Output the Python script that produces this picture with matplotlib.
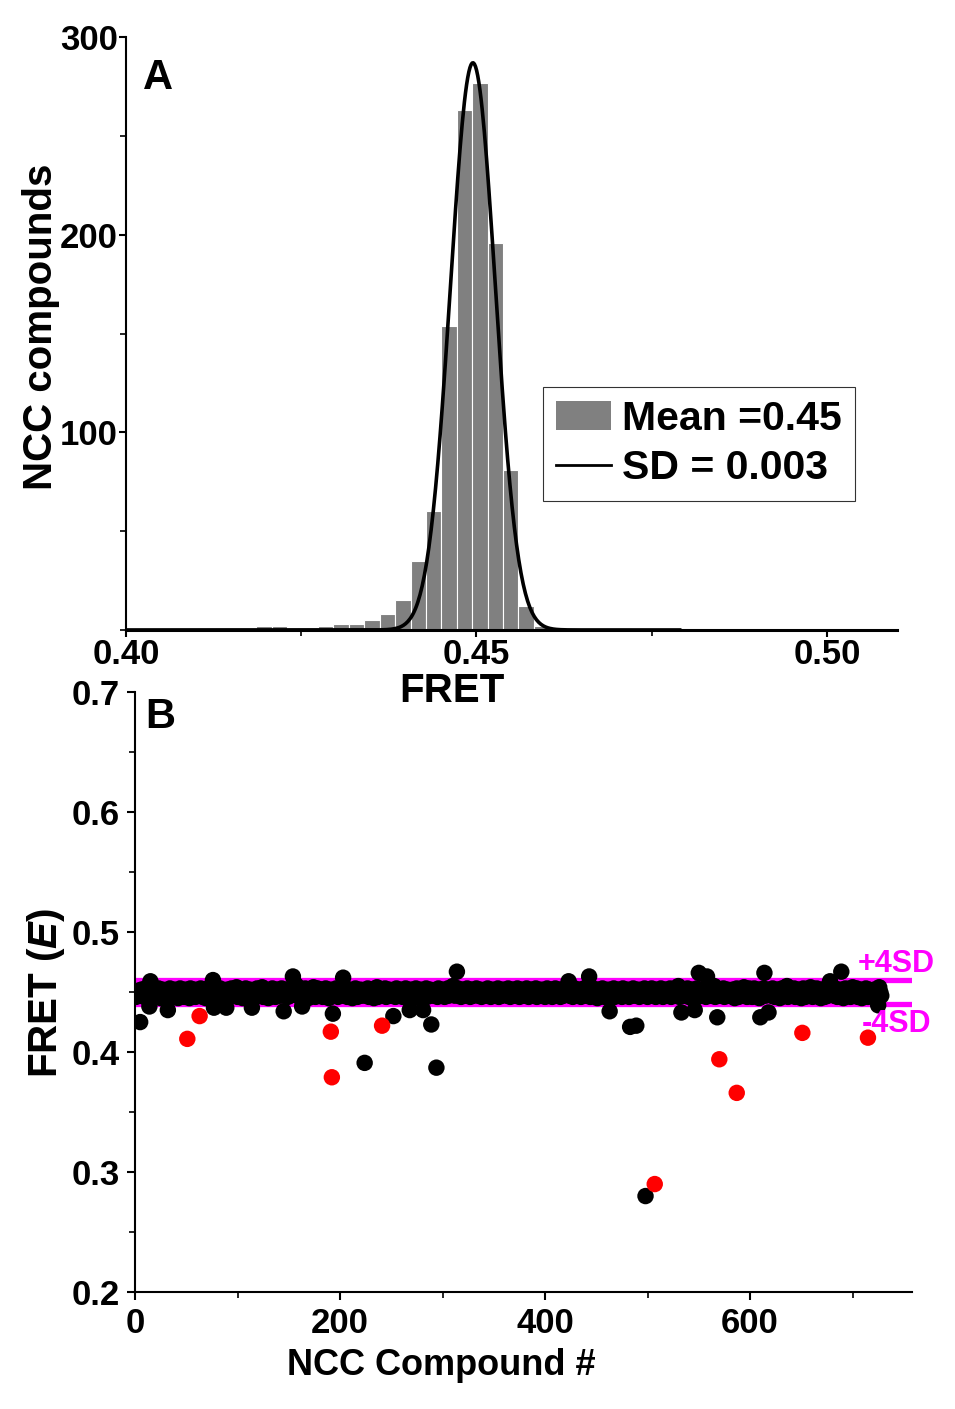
import numpy as np
import matplotlib
matplotlib.use("Agg")
import matplotlib.pyplot as plt
from matplotlib.patches import Patch
from matplotlib.lines import Line2D
from matplotlib.ticker import MultipleLocator

plt.rcParams['font.family'] = ['Liberation Sans', 'DejaVu Sans']
plt.rcParams['font.weight'] = 'bold'
plt.rcParams['mathtext.fontset'] = 'custom'
plt.rcParams['mathtext.it'] = 'Liberation Sans:italic:bold'
plt.rcParams['mathtext.rm'] = 'Liberation Sans:bold'

# ---- panel A: histogram of FRET values ----
bin_centers = [0.4175, 0.4197, 0.4219, 0.4241, 0.4263, 0.4285, 0.4307, 0.4329,
               0.4351, 0.4373, 0.4395, 0.4417, 0.4439, 0.4461, 0.4483, 0.4505,
               0.4527, 0.4549, 0.4571, 0.4593, 0.4615, 0.4637, 0.4659]
bin_counts = [1, 2, 2, 0, 0, 2, 3, 3,
              5, 8, 15, 35, 60, 154, 263, 277,
              196, 81, 12, 2, 0, 1, 1]
bin_width = 0.0022

# gaussian fit parameters
fit_center = 0.4495
fit_sd = 0.0032
fit_amp = 287
fit_range = (0.40, 0.479)

# ---- panel B: FRET per compound ----
fret_milli = [
    446, 449, 451, 447, 425, 452, 448, 450, 446, 453, 449, 447, 451, 438, 459, 448, 450, 446, 452, 449,
    447, 451, 453, 448, 445, 450, 452, 447, 449, 446, 451, 435, 448, 453, 450, 446, 449, 452, 447, 450,
    448, 445, 451, 453, 449, 447, 450, 446, 452, 448, 451, 449, 445, 453, 447, 450, 448, 452, 446, 449,
    451, 447, 450, 453, 448, 446, 452, 449, 445, 451, 448, 450, 454, 447, 449, 460, 437, 451, 448, 452,
    446, 450, 453, 448, 447, 451, 449, 445, 437, 452, 448, 450, 446, 453, 449, 447, 451, 448, 454, 446,
    449, 452, 447, 450, 445, 451, 448, 453, 446, 450, 449, 452, 447, 437, 451, 448, 450, 446, 453, 449,
    447, 451, 448, 454, 446, 450, 452, 447, 449, 445, 451, 448, 450, 453, 447, 449, 446, 452, 448, 451,
    450, 447, 453, 449, 434, 451, 448, 452, 446, 450, 447, 453, 449, 463, 451, 448, 456, 447, 450, 452,
    446, 449, 438, 451, 447, 453, 448, 450, 445, 452, 449, 447, 451, 454, 448, 446, 450, 453, 447, 449,
    452, 448, 446, 451, 449, 453, 447, 450, 445, 452, 448, 451, 432, 449, 447, 453, 450, 446, 452, 448,
    451, 449, 462, 447, 450, 453, 446, 452, 448, 449, 451, 445, 450, 447, 453, 449, 446, 451, 448, 452,
    450, 447, 449, 391, 451, 448, 453, 446, 450, 452, 447, 449, 445, 451, 448, 454, 446, 450, 449, 452,
    447, 451, 448, 453, 446, 450, 449, 452, 447, 451, 448, 430, 450, 446, 453, 449, 447, 452, 448, 450,
    446, 451, 449, 453, 447, 450, 448, 435, 452, 449, 446, 451, 448, 453, 447, 450, 445, 452, 449, 447,
    435, 451, 448, 453, 446, 450, 449, 452, 423, 447, 451, 448, 450, 387, 446, 453, 449, 447, 452, 448,
    450, 446, 451, 449, 453, 447, 452, 448, 450, 455, 449, 447, 451, 467, 453, 448, 450, 446, 452, 449,
    447, 451, 449, 453, 448, 450, 446, 452, 449, 447, 451, 448, 453, 450, 447, 449, 452, 446, 450, 448,
    451, 449, 447, 453, 448, 450, 446, 452, 449, 451, 447, 450, 448, 453, 446, 451, 449, 447, 452, 450,
    448, 451, 447, 453, 449, 446, 450, 452, 448, 451, 447, 449, 453, 450, 446, 452, 448, 451, 449, 447,
    450, 453, 448, 446, 451, 449, 452, 447, 450, 448, 453, 446, 451, 449, 447, 452, 450, 448, 451, 446,
    449, 453, 447, 450, 452, 448, 446, 451, 449, 453, 447, 450, 448, 452, 446, 451, 449, 447, 453, 450,
    448, 451, 459, 447, 452, 449, 446, 450, 453, 448, 451, 447, 449, 452, 446, 450, 448, 453, 447, 451,
    449, 452, 463, 446, 450, 448, 453, 447, 451, 449, 445, 452, 448, 450, 447, 453, 449, 446, 451, 448,
    450, 452, 434, 447, 451, 449, 453, 446, 450, 448, 452, 447, 449, 451, 446, 453, 448, 450, 447, 452,
    449, 446, 421, 451, 448, 453, 447, 450, 422, 449, 452, 446, 450, 448, 451, 447, 453, 280, 449, 446,
    451, 448, 450, 453, 447, 449, 452, 446, 450, 448, 451, 447, 453, 449, 446, 450, 452, 448, 451, 447,
    449, 453, 446, 450, 448, 452, 447, 451, 449, 455, 446, 450, 433, 448, 452, 447, 451, 449, 453, 446,
    450, 448, 452, 447, 451, 435, 449, 453, 446, 466, 448, 452, 447, 451, 449, 453, 446, 463, 450, 448,
    452, 447, 451, 449, 455, 446, 450, 429, 448, 452, 447, 451, 449, 453, 446, 450, 448, 452, 447, 451,
    450, 447, 452, 449, 445, 451, 453, 448, 446, 450, 452, 449, 447, 454, 448, 451, 446, 450, 453, 448,
    449, 446, 451, 453, 447, 450, 448, 452, 445, 429, 451, 449, 453, 466, 447, 450, 452, 433, 448, 451,
    447, 453, 449, 446, 451, 448, 452, 450, 445, 449, 453, 447, 451, 448, 450, 455, 446, 452, 449, 447,
    451, 448, 453, 446, 450, 449, 452, 447, 451, 445, 448, 453, 450, 446, 452, 449, 447, 451, 454, 448,
    446, 450, 452, 448, 453, 447, 449, 451, 445, 452, 448, 450, 446, 453, 449, 447, 451, 459, 448, 452,
    449, 447, 453, 450, 446, 451, 448, 452, 467, 449, 445, 451, 453, 447, 450, 448, 452, 446, 449, 454,
    447, 451, 449, 453, 446, 450, 452, 448, 445, 451, 449, 447, 453, 450, 446, 452, 448, 451, 449, 447,
    452, 448, 450, 446, 439, 454, 450, 447,
]
compound_ids = list(range(1, len(fret_milli) + 1))

hit_ids = [51, 63, 191, 192, 241, 507, 570, 587, 651, 715]
hit_fret = [0.411, 0.430, 0.417, 0.379, 0.422, 0.290, 0.394, 0.366, 0.416, 0.412]

sd_upper = 0.46
sd_lower = 0.44

fig = plt.figure(figsize=(9.55, 14.09), dpi=100)

# ----------------- A -----------------
axA = fig.add_axes([0.1319, 0.5529, 0.8073, 0.4208])
axA.set_zorder(2)
axA.patch.set_alpha(0)
axA.bar(bin_centers, bin_counts, width=bin_width, color='#808080',
        edgecolor='white', linewidth=0.8, zorder=2)
xs = np.linspace(fit_range[0], fit_range[1], 500)
axA.plot(xs, fit_amp * np.exp(-0.5 * ((xs - fit_center) / fit_sd) ** 2),
         color='black', lw=2.6, zorder=3)
axA.set_xlim(0.40, 0.51)
axA.set_ylim(0, 300)
axA.spines['top'].set_visible(False)
axA.spines['right'].set_visible(False)
axA.spines['bottom'].set_linewidth(2.2)
axA.spines['left'].set_linewidth(1.5)
axA.xaxis.set_minor_locator(MultipleLocator(0.025))
axA.yaxis.set_minor_locator(MultipleLocator(50))
axA.set_xticks([0.40, 0.45, 0.50])
axA.set_xticklabels(['0.40', '0.45', '0.50'])
axA.set_yticks([100, 200, 300])
axA.tick_params(which='major', direction='out', length=5, width=1.5, labelsize=25, pad=1)
axA.tick_params(which='minor', direction='out', length=4, width=1.2)
axA.set_xlabel('FRET', fontsize=29, fontweight='bold', va='top')
axA.xaxis.set_label_coords(0.423, -0.071)
axA.set_ylabel('NCC compounds', fontsize=29, fontweight='bold')
axA.yaxis.set_label_coords(-0.086, 0.511)
axA.text(0.022, 0.965, 'A', transform=axA.transAxes, fontsize=30,
         fontweight='bold', va='top', ha='left')
handles = [Patch(facecolor='#808080', edgecolor='none'),
           Line2D([0], [0], color='black', lw=2)]
leg = axA.legend(handles, ['Mean =0.45', 'SD = 0.003'], loc='upper left',
                 bbox_to_anchor=(0.541, 0.41), borderaxespad=0, fontsize=29.5,
                 frameon=True, fancybox=False, handlelength=1.35,
                 handletextpad=0.25, labelspacing=0.28, borderpad=0.32)
leg.get_frame().set_edgecolor('black')
leg.get_frame().set_linewidth(0.8)

# ----------------- B -----------------
axB = fig.add_axes([0.1414, 0.0830, 0.8136, 0.4258])
axB.patch.set_alpha(0)
axB.axhline(sd_upper, color='#ff00ff', lw=3.8, zorder=1)
axB.axhline(sd_lower, color='#ff00ff', lw=3.8, zorder=1)
axB.scatter(compound_ids, [v / 1000 for v in fret_milli], s=140,
            color='black', edgecolors='none', zorder=2)
axB.scatter(hit_ids, hit_fret, s=140, color='#ff0000', edgecolors='none', zorder=3)
axB.set_xlim(0, 758)
axB.set_ylim(0.2, 0.7)
axB.spines['top'].set_visible(False)
axB.spines['right'].set_visible(False)
axB.spines['bottom'].set_linewidth(1.5)
axB.spines['left'].set_linewidth(1.5)
axB.xaxis.set_major_locator(MultipleLocator(200))
axB.xaxis.set_minor_locator(MultipleLocator(100))
axB.yaxis.set_major_locator(MultipleLocator(0.1))
axB.yaxis.set_minor_locator(MultipleLocator(0.05))
axB.yaxis.set_major_formatter(plt.FormatStrFormatter('%.1f'))
axB.tick_params(which='major', direction='out', length=6, width=1.5, labelsize=25, pad=5)
axB.tick_params(which='minor', direction='out', length=4, width=1.2)
axB.set_xlabel('NCC Compound #', fontsize=26, fontweight='bold', va='top')
axB.xaxis.set_label_coords(0.394, -0.093)
axB.set_ylabel(r'FRET ($\it{E}$)', fontsize=29, fontweight='bold')
axB.yaxis.set_label_coords(-0.087, 0.498)
axB.text(0.013, 0.992, 'B', transform=axB.transAxes, fontsize=30,
         fontweight='bold', va='top', ha='left')
axB.text(705, 0.4667, '+4SD', color='#ff00ff', fontsize=22, fontweight='bold',
         va='baseline', ha='left')
axB.text(709, 0.4167, '-4SD', color='#ff00ff', fontsize=22, fontweight='bold',
         va='baseline', ha='left')

fig.savefig('out.png', dpi=100)
